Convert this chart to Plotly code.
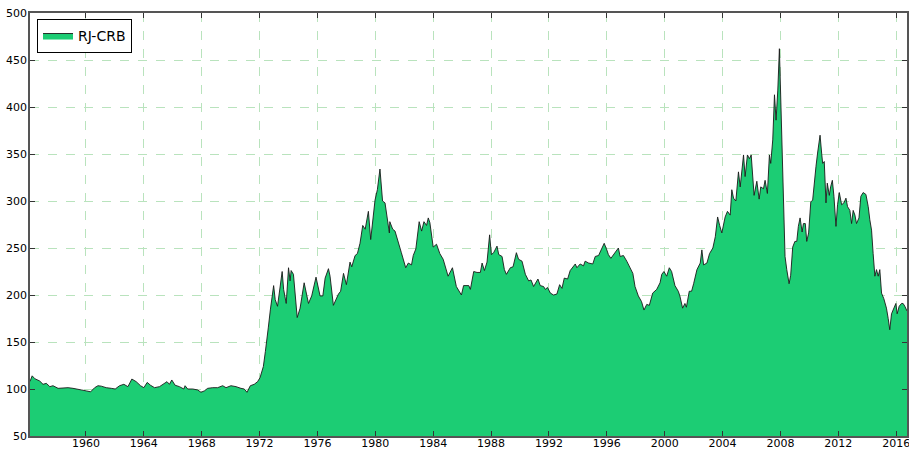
import plotly.graph_objects as go

# RJ-CRB index (decimal year, index level)
years = [
    1956.13, 1956.18, 1956.28, 1956.46, 1956.8, 1957.03, 1957.26, 1957.5, 1957.72,
    1958.07, 1958.41, 1958.76, 1959.1, 1959.45, 1959.68, 1960.02, 1960.32, 1960.6,
    1960.83, 1961.06, 1961.4, 1961.75, 1962.02, 1962.32, 1962.62, 1962.9, 1963.17,
    1963.47, 1963.77, 1964.0, 1964.23, 1964.46, 1964.74, 1965.08, 1965.38, 1965.6,
    1965.77, 1965.93, 1966.16, 1966.46, 1966.76, 1966.85, 1967.03, 1967.38, 1967.72,
    1967.95, 1968.18, 1968.41, 1968.76, 1969.1, 1969.45, 1969.68, 1970.02, 1970.37,
    1970.71, 1970.94, 1971.13, 1971.36, 1971.63, 1971.86, 1972.03, 1972.26, 1972.4,
    1972.49, 1972.6, 1972.75, 1972.97, 1973.08, 1973.24, 1973.56, 1973.66, 1973.84,
    1974.0, 1974.11, 1974.18, 1974.34, 1974.6, 1974.8, 1975.08, 1975.38, 1975.6,
    1975.9, 1976.18, 1976.37, 1976.53, 1976.76, 1976.87, 1977.1, 1977.45, 1977.6,
    1977.8, 1978.0, 1978.25, 1978.37, 1978.6, 1978.76, 1978.94, 1979.13, 1979.3,
    1979.52, 1979.68, 1979.98, 1980.14, 1980.32, 1980.5, 1980.67, 1980.78, 1980.97,
    1981.0, 1981.2, 1981.36, 1981.6, 1981.8, 1982.1, 1982.28, 1982.5, 1982.62,
    1982.8, 1983.03, 1983.2, 1983.36, 1983.54, 1983.66, 1983.77, 1984.0, 1984.23,
    1984.46, 1984.69, 1985.03, 1985.33, 1985.6, 1985.95, 1986.1, 1986.46, 1986.57,
    1986.8, 1987.03, 1987.26, 1987.38, 1987.54, 1987.72, 1987.9, 1988.02, 1988.18,
    1988.41, 1988.53, 1988.76, 1988.92, 1989.06, 1989.33, 1989.52, 1989.75, 1989.9,
    1990.14, 1990.37, 1990.6, 1990.76, 1990.94, 1991.24, 1991.4, 1991.63, 1991.75,
    1991.9, 1992.1, 1992.32, 1992.55, 1992.74, 1992.9, 1993.06, 1993.29, 1993.47,
    1993.82, 1993.93, 1994.16, 1994.39, 1994.5, 1994.74, 1995.03, 1995.2, 1995.43,
    1995.72, 1995.82, 1996.0, 1996.11, 1996.28, 1996.46, 1996.69, 1996.8, 1996.92,
    1997.15, 1997.38, 1997.6, 1997.8, 1997.95, 1998.18, 1998.4, 1998.57, 1998.76,
    1998.94, 1999.17, 1999.45, 1999.68, 1999.8, 1999.95, 2000.14, 2000.32, 2000.48,
    2000.71, 2000.94, 2001.05, 2001.24, 2001.4, 2001.5, 2001.7, 2001.86, 2002.0,
    2002.23, 2002.46, 2002.57, 2002.69, 2002.92, 2003.1, 2003.33, 2003.5, 2003.66,
    2003.8, 2003.95, 2004.18, 2004.34, 2004.53, 2004.64, 2004.76, 2004.92, 2005.1,
    2005.22, 2005.45, 2005.56, 2005.72, 2005.86, 2005.98, 2006.18, 2006.37, 2006.53,
    2006.64, 2006.83, 2006.94, 2007.1, 2007.24, 2007.33, 2007.47, 2007.59, 2007.7,
    2007.82, 2007.93, 2008.09, 2008.2, 2008.32, 2008.44, 2008.6, 2008.71, 2008.85,
    2009.0, 2009.13, 2009.24, 2009.36, 2009.5, 2009.59, 2009.72, 2009.82, 2009.95,
    2010.1, 2010.23, 2010.34, 2010.46, 2010.57, 2010.74, 2010.85, 2010.92, 2011.03,
    2011.15, 2011.24, 2011.38, 2011.47, 2011.59, 2011.7, 2011.84, 2011.95, 2012.07,
    2012.23, 2012.39, 2012.53, 2012.64, 2012.8, 2012.92, 2013.03, 2013.15, 2013.26,
    2013.43, 2013.56, 2013.72, 2013.91, 2014.07, 2014.18, 2014.3, 2014.41, 2014.53,
    2014.64, 2014.76, 2014.87, 2014.99, 2015.15, 2015.33, 2015.45, 2015.56, 2015.68,
    2015.84, 2015.98, 2016.07, 2016.21, 2016.37, 2016.48, 2016.6, 2016.75,
]
crb = [
    108, 110, 114, 111, 108.5, 105, 106, 102.5, 103.5,
    100.7, 101.4, 101.4, 100.7, 100, 99, 98, 97, 101.4,
    103.5, 103, 101.4, 100.7, 100, 103.5, 105, 102.5, 110.6,
    107.8, 103.5, 101.4, 107, 104, 101.4, 102.5, 106, 107.8,
    105, 109.6, 104, 102.5, 100, 103.5, 100, 100, 99,
    96.5, 98, 100.7, 101.4, 101.4, 103.5, 101.4, 103.5, 102.5,
    100.7, 100, 96.5, 103.5, 105, 107.8, 112, 124, 140,
    149, 165, 185, 210, 195, 188, 225, 206, 191,
    229, 215, 226, 222, 176, 186, 213, 191, 199,
    219, 199, 199, 218, 228, 220, 189, 201, 204,
    223, 211, 235, 230, 242, 244, 255, 274, 270,
    289, 259, 301, 312, 334, 300, 298, 287, 266,
    278, 270, 268, 254, 245, 229, 234, 232, 242,
    249, 278, 268, 278, 274, 282, 277, 251, 254,
    244, 238, 220, 229, 209, 200, 210, 210, 206,
    225, 224, 224, 234, 226, 235, 264, 243, 245,
    252, 243, 241, 227, 222, 229, 230, 245, 238,
    236, 222, 215, 216, 209, 217, 210, 209, 206,
    208, 202, 200, 201, 211, 207, 218, 217, 226,
    233, 229, 233, 231, 236, 234, 233, 241, 242,
    252, 255, 248, 243, 239, 243, 248, 250, 241,
    242, 236, 229, 223, 209, 199, 193, 184, 190,
    189, 202, 206, 213, 222, 225, 220, 229, 225,
    210, 204, 199, 186, 191, 187, 204, 204, 212,
    227, 234, 248, 232, 234, 244, 250, 262, 283,
    274, 266, 283, 289, 285, 312, 303, 300, 331,
    315, 349, 326, 349, 345, 349, 306, 321, 302,
    315, 313, 322, 308, 349, 340, 365, 413, 386,
    418, 462, 365, 287, 241, 227, 212, 221, 251,
    257, 257, 273, 282, 267, 276, 276, 257, 266,
    299, 301, 322, 337, 351, 370, 351, 340, 342,
    298, 319, 306, 315, 322, 305, 273, 296, 309,
    296, 298, 303, 294, 290, 276, 290, 285, 276,
    282, 305, 309, 307, 294, 280, 269, 244, 220,
    227, 220, 227, 202, 196, 186, 175, 163, 180,
    186, 191, 180, 188, 191, 191, 188, 183,
]

tick_years = list(range(1960, 2017, 4))
y_ticks = list(range(50, 501, 50))

fig = go.Figure()
fig.add_trace(
    go.Scatter(
        x=years,
        y=crb,
        name="RJ-CRB",
        mode="lines",
        fill="tozeroy",
        fillcolor="#1ccd74",
        line=dict(color="#1a1a1a", width=0.9),
    )
)

axis_style = dict(
    automargin=False,
    showline=True,
    linecolor="#555555",
    linewidth=1.5,
    mirror="ticks",
    ticks="inside",
    ticklen=5,
    tickcolor="#333333",
    showgrid=True,
    gridcolor="#b9e3bd",
    griddash="dash",
    gridwidth=1,
    zeroline=False,
    ticklabeloverflow="allow",
    tickfont=dict(family="DejaVu Sans", size=11, color="#000000"),
)

fig.update_xaxes(
    range=[years[0], years[-1]],
    tickvals=tick_years,
    ticktext=[str(y) for y in tick_years],
    ticklabelstandoff=-4,
    **axis_style,
)
fig.update_yaxes(range=[50, 500], tickvals=y_ticks, ticklabelstandoff=-1, **axis_style)

fig.update_layout(
    width=909,
    height=449,
    margin=dict(l=30, r=2, t=13, b=13),
    plot_bgcolor="white",
    paper_bgcolor="white",
    font=dict(family="DejaVu Sans", color="#000000"),
    showlegend=True,
    legend=dict(
        x=0.008,
        y=0.986,
        xanchor="left",
        yanchor="top",
        bgcolor="white",
        bordercolor="#000000",
        borderwidth=1,
        font=dict(size=14),
        tracegroupgap=0,
    ),
)

# drop the page's default body margin so the figure sits at the window corner
fig.write_html(
    "out.html",
    config={"displayModeBar": False},
    post_script="document.body.style.margin = '0';",
)
